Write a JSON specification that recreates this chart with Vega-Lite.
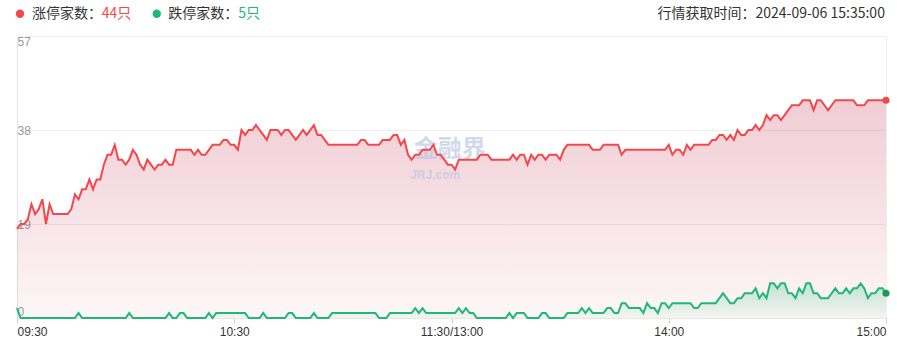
{
  "$schema": "https://vega.github.io/schema/vega-lite/v6.json",
  "width": 869,
  "height": 282,
  "autosize": {"type": "none"},
  "padding": {"left": 17, "top": 36, "right": 11, "bottom": 41},
  "background": "white",
  "config": {"view": {"stroke": "#eeeeee"}, "font": "Noto Sans CJK SC"},
  "datasets": {
    "series": [
      {"t":0,"up":18,"down":2},{"t":1,"up":19,"down":0},{"t":2,"up":19,"down":0},{"t":3,"up":20,"down":0},{"t":4,"up":23,"down":0},{"t":5,"up":21,"down":0},{"t":6,"up":22,"down":0},{"t":7,"up":24,"down":0},{"t":8,"up":19,"down":0},{"t":9,"up":23,"down":0},
      {"t":10,"up":21,"down":0},{"t":11,"up":21,"down":0},{"t":12,"up":21,"down":0},{"t":13,"up":21,"down":0},{"t":14,"up":21,"down":0},{"t":15,"up":22,"down":0},{"t":16,"up":25,"down":0},{"t":17,"up":24,"down":1},{"t":18,"up":26,"down":0},{"t":19,"up":26,"down":0},
      {"t":20,"up":28,"down":0},{"t":21,"up":26,"down":0},{"t":22,"up":28,"down":0},{"t":23,"up":28,"down":0},{"t":24,"up":31,"down":0},{"t":25,"up":33,"down":0},{"t":26,"up":33,"down":0},{"t":27,"up":35,"down":0},{"t":28,"up":32,"down":0},{"t":29,"up":32,"down":0},
      {"t":30,"up":31,"down":0},{"t":31,"up":32,"down":1},{"t":32,"up":34,"down":0},{"t":33,"up":33,"down":0},{"t":34,"up":31,"down":0},{"t":35,"up":30,"down":0},{"t":36,"up":32,"down":0},{"t":37,"up":31,"down":0},{"t":38,"up":30,"down":0},{"t":39,"up":31,"down":0},
      {"t":40,"up":31,"down":0},{"t":41,"up":32,"down":0},{"t":42,"up":31,"down":1},{"t":43,"up":31,"down":0},{"t":44,"up":34,"down":0},{"t":45,"up":34,"down":1},{"t":46,"up":34,"down":1},{"t":47,"up":34,"down":0},{"t":48,"up":34,"down":0},{"t":49,"up":33,"down":0},
      {"t":50,"up":34,"down":0},{"t":51,"up":33,"down":0},{"t":52,"up":33,"down":0},{"t":53,"up":34,"down":1},{"t":54,"up":35,"down":0},{"t":55,"up":35,"down":1},{"t":56,"up":35,"down":1},{"t":57,"up":36,"down":1},{"t":58,"up":36,"down":1},{"t":59,"up":35,"down":1},
      {"t":60,"up":35,"down":1},{"t":61,"up":34,"down":1},{"t":62,"up":38,"down":1},{"t":63,"up":37,"down":1},{"t":64,"up":38,"down":0},{"t":65,"up":38,"down":0},{"t":66,"up":39,"down":0},{"t":67,"up":38,"down":0},{"t":68,"up":37,"down":1},{"t":69,"up":36,"down":0},
      {"t":70,"up":38,"down":0},{"t":71,"up":38,"down":0},{"t":72,"up":38,"down":0},{"t":73,"up":37,"down":0},{"t":74,"up":38,"down":0},{"t":75,"up":38,"down":1},{"t":76,"up":37,"down":1},{"t":77,"up":36,"down":0},{"t":78,"up":37,"down":0},{"t":79,"up":38,"down":0},
      {"t":80,"up":37,"down":0},{"t":81,"up":38,"down":0},{"t":82,"up":39,"down":1},{"t":83,"up":37,"down":0},{"t":84,"up":37,"down":0},{"t":85,"up":36,"down":0},{"t":86,"up":35,"down":0},{"t":87,"up":35,"down":1},{"t":88,"up":35,"down":1},{"t":89,"up":35,"down":1},
      {"t":90,"up":35,"down":1},{"t":91,"up":35,"down":1},{"t":92,"up":35,"down":1},{"t":93,"up":35,"down":1},{"t":94,"up":35,"down":1},{"t":95,"up":36,"down":1},{"t":96,"up":36,"down":1},{"t":97,"up":35,"down":1},{"t":98,"up":35,"down":1},{"t":99,"up":35,"down":1},
      {"t":100,"up":35,"down":0},{"t":101,"up":36,"down":0},{"t":102,"up":36,"down":0},{"t":103,"up":36,"down":1},{"t":104,"up":37,"down":1},{"t":105,"up":37,"down":1},{"t":106,"up":35,"down":1},{"t":107,"up":36,"down":1},{"t":108,"up":33,"down":1},{"t":109,"up":32,"down":1},
      {"t":110,"up":33,"down":2},{"t":111,"up":33,"down":1},{"t":112,"up":34,"down":2},{"t":113,"up":34,"down":1},{"t":114,"up":34,"down":1},{"t":115,"up":35,"down":1},{"t":116,"up":33,"down":1},{"t":117,"up":33,"down":1},{"t":118,"up":32,"down":1},{"t":119,"up":31,"down":1},
      {"t":120,"up":31,"down":1},{"t":121,"up":30,"down":1},{"t":122,"up":32,"down":2},{"t":123,"up":32,"down":1},{"t":124,"up":32,"down":2},{"t":125,"up":32,"down":1},{"t":126,"up":32,"down":1},{"t":127,"up":32,"down":0},{"t":128,"up":33,"down":0},{"t":129,"up":33,"down":0},
      {"t":130,"up":33,"down":0},{"t":131,"up":32,"down":0},{"t":132,"up":32,"down":0},{"t":133,"up":32,"down":0},{"t":134,"up":32,"down":0},{"t":135,"up":32,"down":0},{"t":136,"up":32,"down":1},{"t":137,"up":33,"down":0},{"t":138,"up":32,"down":1},{"t":139,"up":33,"down":1},
      {"t":140,"up":33,"down":1},{"t":141,"up":31,"down":0},{"t":142,"up":33,"down":0},{"t":143,"up":32,"down":0},{"t":144,"up":33,"down":0},{"t":145,"up":33,"down":1},{"t":146,"up":32,"down":1},{"t":147,"up":33,"down":0},{"t":148,"up":33,"down":0},{"t":149,"up":33,"down":0},
      {"t":150,"up":32,"down":0},{"t":151,"up":34,"down":0},{"t":152,"up":35,"down":1},{"t":153,"up":35,"down":1},{"t":154,"up":35,"down":1},{"t":155,"up":35,"down":1},{"t":156,"up":35,"down":2},{"t":157,"up":35,"down":1},{"t":158,"up":35,"down":2},{"t":159,"up":34,"down":1},
      {"t":160,"up":34,"down":1},{"t":161,"up":34,"down":1},{"t":162,"up":35,"down":1},{"t":163,"up":35,"down":2},{"t":164,"up":35,"down":2},{"t":165,"up":35,"down":1},{"t":166,"up":35,"down":1},{"t":167,"up":33,"down":3},{"t":168,"up":34,"down":3},{"t":169,"up":34,"down":2},
      {"t":170,"up":34,"down":2},{"t":171,"up":34,"down":2},{"t":172,"up":34,"down":2},{"t":173,"up":34,"down":1},{"t":174,"up":34,"down":3},{"t":175,"up":34,"down":2},{"t":176,"up":34,"down":2},{"t":177,"up":34,"down":1},{"t":178,"up":34,"down":3},{"t":179,"up":34,"down":3},
      {"t":180,"up":35,"down":2},{"t":181,"up":33,"down":3},{"t":182,"up":34,"down":3},{"t":183,"up":34,"down":3},{"t":184,"up":33,"down":3},{"t":185,"up":35,"down":3},{"t":186,"up":34,"down":3},{"t":187,"up":35,"down":2},{"t":188,"up":35,"down":2},{"t":189,"up":35,"down":3},
      {"t":190,"up":35,"down":3},{"t":191,"up":35,"down":3},{"t":192,"up":36,"down":3},{"t":193,"up":36,"down":3},{"t":194,"up":37,"down":4},{"t":195,"up":37,"down":5},{"t":196,"up":36,"down":4},{"t":197,"up":37,"down":3},{"t":198,"up":36,"down":3},{"t":199,"up":38,"down":4},
      {"t":200,"up":37,"down":4},{"t":201,"up":37,"down":5},{"t":202,"up":38,"down":5},{"t":203,"up":38,"down":5},{"t":204,"up":39,"down":6},{"t":205,"up":38,"down":4},{"t":206,"up":39,"down":5},{"t":207,"up":41,"down":4},{"t":208,"up":40,"down":7},{"t":209,"up":41,"down":7},
      {"t":210,"up":41,"down":6},{"t":211,"up":40,"down":7},{"t":212,"up":41,"down":7},{"t":213,"up":42,"down":5},{"t":214,"up":43,"down":5},{"t":215,"up":43,"down":4},{"t":216,"up":43,"down":6},{"t":217,"up":44,"down":5},{"t":218,"up":44,"down":7},{"t":219,"up":44,"down":7},
      {"t":220,"up":42,"down":5},{"t":221,"up":44,"down":5},{"t":222,"up":44,"down":4},{"t":223,"up":43,"down":4},{"t":224,"up":42,"down":4},{"t":225,"up":43,"down":5},{"t":226,"up":44,"down":6},{"t":227,"up":44,"down":5},{"t":228,"up":44,"down":5},{"t":229,"up":44,"down":6},
      {"t":230,"up":44,"down":5},{"t":231,"up":44,"down":6},{"t":232,"up":43,"down":6},{"t":233,"up":43,"down":7},{"t":234,"up":43,"down":6},{"t":235,"up":44,"down":4},{"t":236,"up":44,"down":5},{"t":237,"up":44,"down":5},{"t":238,"up":44,"down":6},{"t":239,"up":44,"down":6},
      {"t":240,"up":44,"down":5}
    ],
    "labels": [
      {"key": "wm1", "label": "金融界"},
      {"key": "wm2", "label": "JRJ.com"},
      {"key": "upName", "label": "涨停家数："},
      {"key": "upCount", "label": "44只"},
      {"key": "downName", "label": "跌停家数："},
      {"key": "downCount", "label": "5只"},
      {"key": "time", "label": "行情获取时间：2024-09-06 15:35:00"},
      {"key": "upDot", "label": ""},
      {"key": "downDot", "label": ""}
    ]
  },
  "layer": [
    {
      "data": {"name": "series"},
      "mark": {"type": "area", "line": false, "color": {"gradient": "linear", "x1": 0, "y1": 0, "x2": 0, "y2": 1, "stops": [{"offset": 0, "color": "rgba(200,60,90,0.26)"}, {"offset": 1, "color": "rgba(200,60,90,0.045)"}]}},
      "encoding": {
        "x": {
          "field": "t", "type": "quantitative", "title": null,
          "scale": {"domain": [0, 240], "nice": false, "zero": false},
          "axis": {
            "values": [0, 60, 120, 180, 240],
            "labelExpr": "datum.value == 0 ? '09:30' : datum.value == 60 ? '10:30' : datum.value == 120 ? '11:30/13:00' : datum.value == 180 ? '14:00' : '15:00'",
            "labelFlush": true, "labelFont": "Liberation Sans", "labelFontSize": 12, "labelColor": "#333333",
            "labelPadding": 3, "tickSize": 5, "tickColor": "#cccccc", "domainColor": "#e6e6e6", "grid": false, "title": null
          }
        },
        "y": {
          "field": "up", "type": "quantitative", "title": null,
          "scale": {"domain": [0, 57], "nice": false, "zero": true},
          "axis": {
            "values": [0, 19, 38, 57], "title": null, "grid": true, "gridColor": "#eeeeee",
            "domain": true, "domainColor": "#e4e4ee", "ticks": false, "tickSize": 0,
            "labelAlign": "left", "labelPadding": 0, "labelFlush": true, "labelFlushOffset": 0,
            "labelFont": "Liberation Sans", "labelFontSize": 12, "labelColor": "#999999"
          }
        }
      }
    },
    {
      "data": {"name": "series"},
      "mark": {"type": "area", "line": false, "color": {"gradient": "linear", "x1": 0, "y1": 0, "x2": 0, "y2": 1, "stops": [{"offset": 0, "color": "rgba(33,185,122,0.25)"}, {"offset": 1, "color": "rgba(33,185,122,0.04)"}]}},
      "encoding": {"x": {"field": "t", "type": "quantitative"}, "y": {"field": "down", "type": "quantitative"}}
    },
    {
      "data": {"name": "labels"},
      "transform": [{"filter": "datum.key == 'wm1'"}],
      "mark": {"type": "text", "fontSize": 24, "fontWeight": "bold", "color": "#b4c3e0", "opacity": 0.6, "align": "center", "baseline": "middle"},
      "encoding": {"text": {"field": "label", "type": "nominal"}, "x": {"datum": 119.5, "type": "quantitative"}, "y": {"datum": 34, "type": "quantitative"}}
    },
    {
      "data": {"name": "labels"},
      "transform": [{"filter": "datum.key == 'wm2'"}],
      "mark": {"type": "text", "font": "Liberation Sans", "fontSize": 12, "fontWeight": "bold", "color": "#b4c3e0", "opacity": 0.6, "align": "center", "baseline": "middle"},
      "encoding": {"text": {"field": "label", "type": "nominal"}, "x": {"datum": 115.5, "type": "quantitative"}, "y": {"datum": 29, "type": "quantitative"}}
    },
    {
      "data": {"name": "series"},
      "mark": {"type": "line", "color": "#f4474b", "strokeWidth": 2},
      "encoding": {"x": {"field": "t", "type": "quantitative"}, "y": {"field": "up", "type": "quantitative"}}
    },
    {
      "data": {"name": "series"},
      "mark": {"type": "line", "color": "#20b877", "strokeWidth": 2},
      "encoding": {"x": {"field": "t", "type": "quantitative"}, "y": {"field": "down", "type": "quantitative"}}
    },
    {
      "data": {"name": "series"},
      "transform": [{"filter": "datum.t == 240"}],
      "mark": {"type": "point", "filled": true, "shape": "circle", "size": 50, "color": "#f4474b", "opacity": 1},
      "encoding": {"x": {"field": "t", "type": "quantitative"}, "y": {"field": "up", "type": "quantitative"}}
    },
    {
      "data": {"name": "series"},
      "transform": [{"filter": "datum.t == 240"}],
      "mark": {"type": "point", "filled": true, "shape": "circle", "size": 50, "color": "#1a9a52", "opacity": 1},
      "encoding": {"x": {"field": "t", "type": "quantitative"}, "y": {"field": "down", "type": "quantitative"}}
    },
    {
      "data": {"name": "labels"},
      "transform": [{"filter": "datum.key == 'upDot'"}],
      "mark": {"type": "point", "filled": true, "shape": "circle", "size": 70, "color": "#f4474b", "opacity": 1},
      "encoding": {"x": {"datum": 0.83, "type": "quantitative"}, "y": {"datum": 61.5, "type": "quantitative"}}
    },
    {
      "data": {"name": "labels"},
      "transform": [{"filter": "datum.key == 'upName'"}],
      "mark": {"type": "text", "fontSize": 14, "color": "#333333", "align": "left", "baseline": "middle"},
      "encoding": {"text": {"field": "label", "type": "nominal"}, "x": {"datum": 4.14, "type": "quantitative"}, "y": {"datum": 61.5, "type": "quantitative"}}
    },
    {
      "data": {"name": "labels"},
      "transform": [{"filter": "datum.key == 'upCount'"}],
      "mark": {"type": "text", "fontSize": 14, "color": "#f4474b", "align": "left", "baseline": "middle"},
      "encoding": {"text": {"field": "label", "type": "nominal"}, "x": {"datum": 23.4, "type": "quantitative"}, "y": {"datum": 61.5, "type": "quantitative"}}
    },
    {
      "data": {"name": "labels"},
      "transform": [{"filter": "datum.key == 'downDot'"}],
      "mark": {"type": "point", "filled": true, "shape": "circle", "size": 70, "color": "#20b877", "opacity": 1},
      "encoding": {"x": {"datum": 38.6, "type": "quantitative"}, "y": {"datum": 61.5, "type": "quantitative"}}
    },
    {
      "data": {"name": "labels"},
      "transform": [{"filter": "datum.key == 'downName'"}],
      "mark": {"type": "text", "fontSize": 14, "color": "#333333", "align": "left", "baseline": "middle"},
      "encoding": {"text": {"field": "label", "type": "nominal"}, "x": {"datum": 41.8, "type": "quantitative"}, "y": {"datum": 61.5, "type": "quantitative"}}
    },
    {
      "data": {"name": "labels"},
      "transform": [{"filter": "datum.key == 'downCount'"}],
      "mark": {"type": "text", "fontSize": 14, "color": "#20b877", "align": "left", "baseline": "middle"},
      "encoding": {"text": {"field": "label", "type": "nominal"}, "x": {"datum": 61.1, "type": "quantitative"}, "y": {"datum": 61.5, "type": "quantitative"}}
    },
    {
      "data": {"name": "labels"},
      "transform": [{"filter": "datum.key == 'time'"}],
      "mark": {"type": "text", "fontSize": 14, "color": "#333333", "align": "right", "baseline": "middle"},
      "encoding": {"text": {"field": "label", "type": "nominal"}, "x": {"datum": 239.7, "type": "quantitative"}, "y": {"datum": 61.5, "type": "quantitative"}}
    }
  ]
}
